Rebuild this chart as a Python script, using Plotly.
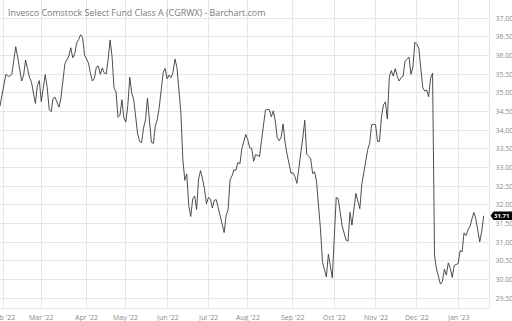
import pandas as pd
import plotly.graph_objects as go

TITLE = "Invesco Comstock Select Fund Class A (CGRWX) - Barchart.com"
START_DATE = "2022-01-28"
END_DATE = "2023-01-23"
HOLIDAYS = ["2022-02-21", "2022-04-15", "2022-05-30", "2022-06-20", "2022-07-04",
            "2022-09-05", "2022-11-24", "2022-12-26", "2023-01-02", "2023-01-16"]

PRICES = [
    34.65, 34.96, 35.26, 35.50, 35.45, 35.45, 35.50, 35.85, 36.24, 35.96,
    35.65, 35.32, 35.47, 35.88, 35.65, 35.42, 35.29, 35.00, 34.72, 35.20,
    35.33, 34.77, 35.20, 35.49, 35.15, 34.56, 34.50, 34.86, 34.88, 34.76,
    34.62, 34.87, 35.32, 35.78, 35.88, 35.99, 36.21, 35.94, 36.05, 36.34,
    36.43, 36.56, 36.49, 36.01, 35.91, 35.80, 35.52, 35.32, 35.39, 35.69,
    35.72, 35.50, 35.67, 35.54, 35.51, 35.89, 36.42, 35.97, 35.13, 35.03,
    34.35, 34.40, 34.82, 34.33, 34.22, 34.67, 35.42, 35.00, 34.83, 34.33,
    33.90, 33.70, 33.67, 34.06, 34.28, 34.86, 34.18, 33.68, 33.65, 34.13,
    34.29, 34.62, 35.09, 35.55, 35.66, 35.38, 35.48, 35.41, 35.56, 35.91,
    35.68, 35.17, 34.47, 33.21, 32.66, 32.83, 31.99, 31.69, 32.16, 32.24,
    31.88, 32.70, 32.92, 32.70, 32.43, 32.03, 32.20, 32.16, 31.92, 32.13,
    32.14, 31.92, 31.70, 31.50, 31.26, 31.72, 31.87, 32.67, 32.78, 32.94,
    32.93, 33.14, 33.10, 33.51, 33.70, 33.89, 33.75, 33.53, 33.52, 33.17,
    33.35, 33.32, 33.30, 33.72, 34.15, 34.54, 34.56, 34.55, 34.36, 34.52,
    34.25, 33.80, 33.72, 33.82, 34.17, 33.66, 33.36, 33.06, 32.85, 32.86,
    32.76, 32.58, 32.95, 33.35, 33.80, 34.27, 33.36, 33.30, 33.25, 32.84,
    32.89, 32.62, 32.04, 31.35, 30.48, 30.25, 30.07, 30.68, 30.35, 30.05,
    31.12, 32.20, 32.17, 31.85, 31.44, 31.25, 31.06, 31.03, 31.80, 31.46,
    31.90, 32.31, 32.10, 31.90, 32.55, 32.90, 33.20, 33.48, 33.65, 34.15,
    34.16, 34.15, 33.70, 33.70, 34.35, 34.68, 34.76, 34.30, 35.42, 35.60,
    35.45, 35.65, 35.45, 35.32, 35.41, 35.45, 35.85, 35.91, 35.96, 35.50,
    35.70, 36.36, 36.30, 36.20, 35.60, 35.15, 35.05, 35.08, 34.90, 35.40,
    35.53, 30.65, 30.28, 30.05, 29.88, 29.95, 30.28, 30.12, 30.45, 30.30,
    30.06, 30.38, 30.40, 30.43, 30.78, 30.74, 31.25, 31.18, 31.33, 31.42,
    31.62, 31.80, 31.62, 31.35, 31.01, 31.30, 31.71,
]

TICK_DATES = ["2022-02-01", "2022-03-01", "2022-04-01", "2022-05-02", "2022-06-01",
              "2022-07-01", "2022-08-01", "2022-09-01", "2022-10-03", "2022-11-01",
              "2022-12-01", "2023-01-03"]
TICK_TEXT = ["Feb '22", "Mar '22", "Apr '22", "May '22", "Jun '22", "Jul '22",
             "Aug '22", "Sep '22", "Oct '22", "Nov '22", "Dec '22", "Jan '23"]
Y_TICKS = [29.5, 30.0, 30.5, 31.0, 31.5, 32.0, 32.5, 33.0, 33.5, 34.0, 34.5,
           35.0, 35.5, 36.0, 36.5, 37.0]
LAST_PRICE = 31.71

dates = pd.bdate_range(START_DATE, END_DATE, freq="C", holidays=HOLIDAYS)
dates = [d.strftime("%Y-%m-%d") for d in dates]
n = min(len(dates), len(PRICES))
dates = dates[:n]
prices = PRICES[:n]

FONT = "Open Sans"
GRID = "#e6e6e6"
TXT = "#8a8a8a"

fig = go.Figure()
fig.add_trace(go.Scatter(
    x=dates, y=prices, mode="lines",
    line=dict(color="#3a3a3a", width=0.9),
    hoverinfo="skip",
))

fig.update_layout(
    width=512, height=321,
    margin=dict(l=0, r=23, t=0, b=13),
    paper_bgcolor="white", plot_bgcolor="white",
    showlegend=False,
    font=dict(family=FONT, color=TXT, size=7),
    xaxis=dict(
        type="category",
        range=[0, 248.7],
        tickmode="array", tickvals=TICK_DATES, ticktext=[""] * len(TICK_DATES),
        showgrid=True, gridcolor=GRID, gridwidth=1,
        showline=True, linecolor=GRID, linewidth=1,
        ticks="", showticklabels=False,
        zeroline=False, fixedrange=True,
    ),
    yaxis=dict(
        side="right",
        range=[29.24, 37.49],
        tickmode="array", tickvals=Y_TICKS,
        ticktext=[f"{v:.2f}" for v in Y_TICKS],
        showgrid=True, gridcolor=GRID, gridwidth=1,
        showline=True, linecolor=GRID, linewidth=1,
        ticks="", ticklabelstandoff=4,
        tickfont=dict(size=7, color=TXT),
        zeroline=False, fixedrange=True,
    ),
)

# month labels under the axis, centred on each month's first session
for d, t in zip(TICK_DATES, TICK_TEXT):
    fig.add_annotation(
        text=t, xref="x", yref="paper", x=d, y=0,
        xanchor="center", yanchor="top", yshift=-3,
        showarrow=False, font=dict(family=FONT, size=7, color=TXT),
    )

# title text
fig.add_annotation(
    text=TITLE, xref="paper", yref="paper", x=0, y=1,
    xanchor="left", yanchor="top", xshift=6, yshift=-4,
    showarrow=False, font=dict(family=FONT, size=8.9, color="#7a7a7a"),
)

# last price badge
fig.add_shape(
    type="path", xref="paper", yref="y",
    xsizemode="pixel", ysizemode="pixel",
    xanchor=1, yanchor=LAST_PRICE,
    path="M 1.5,0 L 4.5,4.3 L 26,4.3 L 26,-4.3 L 4.5,-4.3 Z",
    fillcolor="black", line=dict(width=0), layer="above",
)
fig.add_annotation(
    text=f"<b>{LAST_PRICE:.2f}</b>", xref="paper", yref="y",
    x=1, y=LAST_PRICE, xanchor="center", yanchor="middle", xshift=12,
    showarrow=False, font=dict(family=FONT, size=6, color="white"),
)

fig.write_html("out.html")
